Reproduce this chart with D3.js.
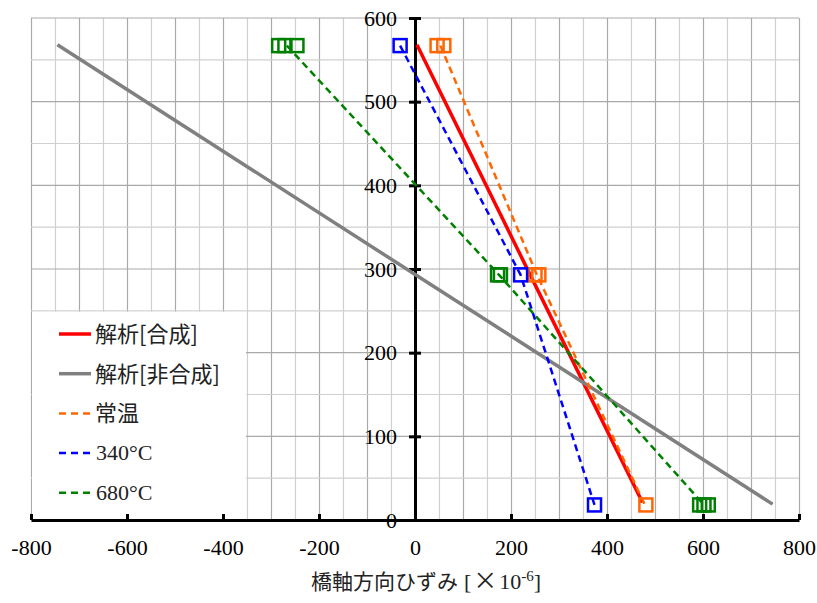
<!DOCTYPE html>
<html><head><meta charset="utf-8">
<script src="https://cdn.jsdelivr.net/npm/d3@7"></script>
<style>body{margin:0;background:#fff}</style>
</head><body>
<svg id="c" width="817" height="603"></svg>
<script>
// ---- data ----
const xTicks = [-800, -600, -400, -200, 0, 200, 400, 600, 800];
const yTicks = [0, 100, 200, 300, 400, 500, 600];
const gaugeHeights = [567, 293, 18];
// analysis lines
const compositeX = [4, 240, 474];
const compositeY = [568, 293, 21];
const nonCompositeX = [-745, 745];
const nonCompositeY = [568, 19];
// measured (mean line)
const roomLineX = [53, 254, 479];
const t340LineX = [-31, 220, 374];
const t680LineX = [-267, 175, 602];
// measured gauges (markers) per height
const roomMarkers = [[46, 60], [250, 258], [481]];
const t340Markers = [[-31], [220], [374]];
const t680Markers = [[-284, -271, -246], [172, 178], [593, 602, 611]];
const legendLabels = ["解析[合成]", "解析[非合成]", "常温", "340℃", "680℃"];
const colors = ["#ff0000", "#808080", "#ff6600", "#0000ff", "#008000"];

// ---- chart ----
const svg = d3.select("#c");
const x = d3.scaleLinear().domain([-800, 800]).range([31, 799]);
const y = d3.scaleLinear().domain([0, 600]).range([520, 18]);
const serif = "'Liberation Serif','Times New Roman','Noto Sans CJK JP',serif";

// grid
const g = svg.append("g");
d3.range(-800, 801, 50).forEach(v => {
  g.append("line").attr("x1", Math.round(x(v)) + 0.5).attr("x2", Math.round(x(v)) + 0.5)
    .attr("y1", y(600)).attr("y2", y(0))
    .attr("stroke", v % 100 === 0 ? "#a9a9a9" : "#d0d0d0").attr("stroke-width", 1.2);
});
d3.range(0, 601, 50).forEach(v => {
  g.append("line").attr("x1", x(-800)).attr("x2", x(800))
    .attr("y1", y(v)).attr("y2", y(v))
    .attr("stroke", v % 100 === 0 ? "#a9a9a9" : "#d0d0d0").attr("stroke-width", 1.2);
});

// legend background
svg.append("rect").attr("x", x(-800) + 1).attr("y", y(250) + 1)
  .attr("width", x(-350) - x(-800) - 2).attr("height", y(2) - y(250))
  .attr("fill", "#fff");

// x axis
const xa = svg.append("g").attr("transform", `translate(0,${y(0)})`)
  .call(d3.axisBottom(x).tickValues(xTicks).tickFormat(d => String(d))
    .tickSizeInner(-6).tickSizeOuter(0).tickPadding(19));
xa.select(".domain").attr("stroke", "#000").attr("stroke-width", 3);
xa.selectAll(".tick line").attr("stroke", "#000").attr("stroke-width", 3);
xa.selectAll("text").attr("font-family", serif).attr("font-size", 22).attr("fill", "#000");

// y axis
const ya = svg.append("g").attr("transform", `translate(${x(0)},0)`)
  .call(d3.axisLeft(y).tickValues(yTicks).tickFormat(d => String(d))
    .tickSizeInner(6).tickSizeOuter(0).tickPadding(12));
ya.select(".domain").attr("stroke", "#000").attr("stroke-width", 3);
ya.selectAll(".tick line").attr("x1", 6).attr("x2", -6).attr("stroke", "#000").attr("stroke-width", 3);
ya.selectAll("text").attr("font-family", serif).attr("font-size", 22).attr("fill", "#000");

// axis title
const t = svg.append("text").attr("x", 311).attr("y", 589)
  .attr("font-family", serif).attr("font-size", 22).attr("fill", "#222");
t.append("tspan").attr("font-family", "'Noto Sans CJK JP'").attr("font-size", 21).text("橋軸方向ひずみ");
t.append("tspan").attr("dx", 6).text("[");
t.append("tspan").attr("dx", 2).attr("font-family", "'Noto Sans CJK JP'").attr("font-size", 24).text("×");
t.append("tspan").attr("dx", 2).text("10");
t.append("tspan").attr("font-size", 15).attr("dy", -8).text("-6");
t.append("tspan").attr("dy", 8).text("]");

// lines
const line = d3.line().x(d => x(d[0])).y(d => y(d[1]));
const zip = (xs, ys) => xs.map((v, i) => [v, ys[i]]);
const series = [
  { pts: zip(compositeX, compositeY), c: colors[0], w: 3.5, dash: null },
  { pts: zip(nonCompositeX, nonCompositeY), c: colors[1], w: 3.5, dash: null },
  { pts: zip(roomLineX, gaugeHeights), c: colors[2], w: 2.5, dash: "7,4.5" },
  { pts: zip(t340LineX, gaugeHeights), c: colors[3], w: 2.5, dash: "7,4.5" },
  { pts: zip(t680LineX, gaugeHeights), c: colors[4], w: 2.5, dash: "7,4.5" }
];
series.forEach(s => {
  svg.append("path").attr("d", line(s.pts)).attr("fill", "none")
    .attr("stroke", s.c).attr("stroke-width", s.w)
    .attr("stroke-dasharray", s.dash);
});

// markers
const ms = 13;
[[roomMarkers, colors[2]], [t340Markers, colors[3]], [t680Markers, colors[4]]].forEach(([m, c]) => {
  m.forEach((xs, i) => xs.forEach(v => {
    svg.append("rect").attr("x", x(v) - ms / 2).attr("y", y(gaugeHeights[i]) - ms / 2)
      .attr("width", ms).attr("height", ms).attr("fill", "none")
      .attr("stroke", c).attr("stroke-width", 2.5);
  }));
});

// legend
legendLabels.forEach((lab, i) => {
  const cy = 334 + i * 39.7;
  svg.append("line").attr("x1", 59).attr("x2", 91).attr("y1", cy).attr("y2", cy)
    .attr("stroke", colors[i]).attr("stroke-width", i < 2 ? 3.5 : 2.5)
    .attr("stroke-dasharray", i < 2 ? null : "7,5");
  const isNum = /^\d/.test(lab);
  svg.append("text").attr("x", isNum ? 96 : 95).attr("y", cy).attr("dy", isNum ? "0.33em" : "0.36em")
    .attr("font-family", isNum ? serif : "'Noto Sans CJK JP'")
    .attr("font-size", 22).attr("fill", "#222")
    .text(isNum ? lab.replace("℃", "°C") : lab);
});
</script>
</body></html>
